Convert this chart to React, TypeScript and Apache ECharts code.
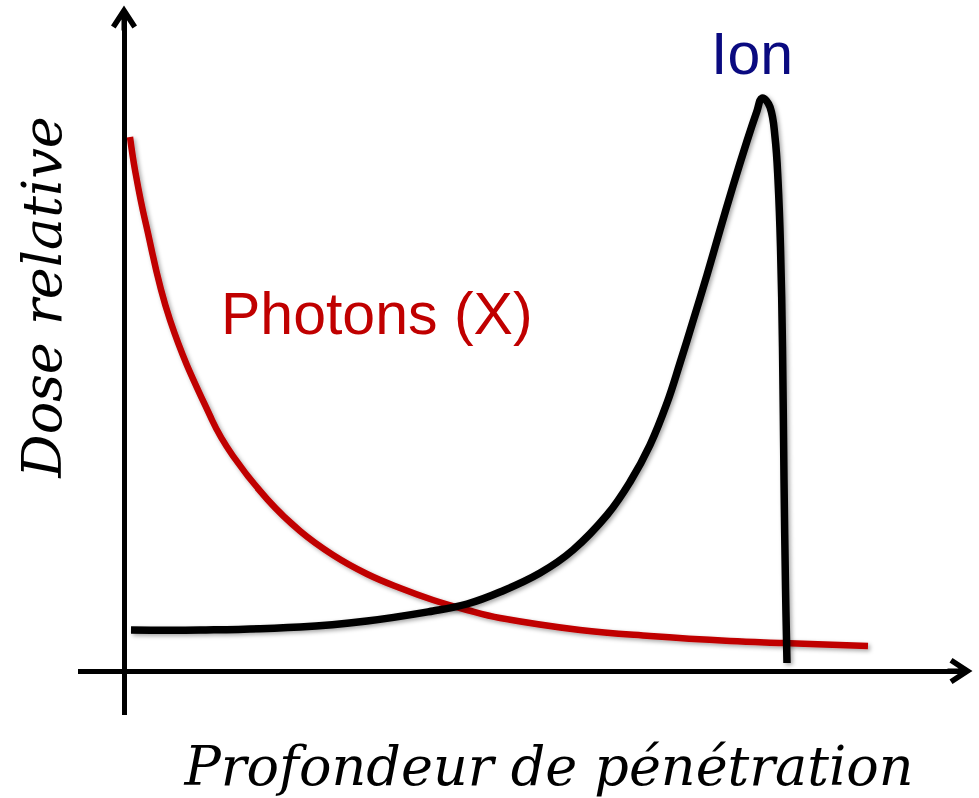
import React, { useEffect, useRef } from "react";
import * as echarts from "echarts";

// Depth (x) and relative dose (y), in chart units (x: 0 = dose axis, y: 0 = depth axis)
const ionDepth = [7, 76, 176, 243, 309, 343, 376, 416, 449, 483, 506, 526, 543, 556, 569, 583, 596, 609, 623, 633, 638, 646, 651, 654, 656.5, 658.5, 660, 661.5, 663];
const ionDose = [41, 41, 44, 50, 60, 67, 79, 98, 121, 156, 189, 226, 268, 308, 350, 396, 441, 485, 530, 560, 573, 564, 534, 491, 424, 324, 191, 84, 8];

const photonDepth = [6, 11, 21, 46, 88, 109, 143, 176, 209, 243, 276, 309, 343, 376, 456, 526, 606, 659, 744];
const photonDose = [534, 501, 451, 351, 251, 215, 172, 140, 116, 97, 83, 71, 61, 53, 41, 35, 30, 28, 25];

const xTitle = "Profondeur de pénétration";
const yTitle = "Dose relative";
const ionLabel = "Ion";
const photonLabel = "Photons (X)";

const ARROW =
  "path://M13,0 L26,20 L21.4,23 L15.5,13.9 L15.5,25 L10.5,25 L10.5,13.9 L4.6,23 L0,20 Z";

function curveSeries(name: string, xs: number[], ys: number[], color: string, width: number, z: number) {
  return {
    type: "custom",
    name,
    z,
    data: xs.map((x, i) => [x, ys[i]]),
    encode: { x: 0, y: 1 },
    renderItem: (params: any, api: any) => {
      if (params.dataIndex !== 0) return null;
      const pts = xs.map((x, i) => api.coord([x, ys[i]]));
      return {
        type: "polyline",
        shape: { points: pts, smooth: 0.4 },
        style: {
          stroke: color,
          lineWidth: width,
          fill: "none",
          lineCap: "butt",
          lineJoin: "round",
          shadowColor: "rgba(0,0,0,0.35)",
          shadowBlur: 4,
          shadowOffsetX: 2,
          shadowOffsetY: 2,
        },
      };
    },
  };
}

export default function App() {
  const ref = useRef<HTMLDivElement>(null);
  useEffect(() => {
    if (!ref.current) return;
    const chart = echarts.init(ref.current, null, { renderer: "svg" });
    const axisLine = {
      show: true,
      onZero: true,
      symbol: ["none", ARROW],
      symbolSize: [26, 25],
      lineStyle: { color: "#000", width: 5, cap: "butt" },
    };
    chart.setOption({
      animation: false,
      backgroundColor: "#fff",
      grid: { left: 78, right: 19, top: 18, bottom: 83 },
      xAxis: {
        type: "value",
        min: -46,
        max: 836,
        axisLine,
        axisTick: { show: false },
        axisLabel: { show: false },
        splitLine: { show: false },
      },
      yAxis: {
        type: "value",
        min: -44,
        max: 653,
        axisLine,
        axisTick: { show: false },
        axisLabel: { show: false },
        splitLine: { show: false },
      },
      series: [
        curveSeries(photonLabel, photonDepth, photonDose, "#C00000", 6.5, 3),
        curveSeries(ionLabel, ionDepth, ionDose, "#000000", 7.5, 4),
      ],
      graphic: [
        {
          type: "text",
          x: 711,
          y: 54,
          style: {
            text: ionLabel,
            fill: "#0A0A80",
            font: '59px "Liberation Sans", Arial, sans-serif',
            align: "left",
            verticalAlign: "middle",
          },
        },
        {
          type: "text",
          x: 221,
          y: 314,
          style: {
            text: photonLabel,
            fill: "#C00000",
            font: '59px "Liberation Sans", Arial, sans-serif',
            align: "left",
            verticalAlign: "middle",
          },
        },
        {
          type: "text",
          x: 549,
          y: 766,
          style: {
            text: xTitle,
            fill: "#000",
            font: 'italic 54px "DejaVu Serif", serif',
            align: "center",
            verticalAlign: "middle",
          },
        },
        {
          type: "text",
          x: 42,
          y: 297,
          rotation: Math.PI / 2,
          style: {
            text: yTitle,
            fill: "#000",
            font: 'italic 54px "DejaVu Serif", serif',
            align: "center",
            verticalAlign: "middle",
          },
        },
      ],
    });
    return () => chart.dispose();
  }, []);
  return <div ref={ref} style={{ width: 979, height: 798, position: "absolute", left: 0, top: 0 }} />;
}
